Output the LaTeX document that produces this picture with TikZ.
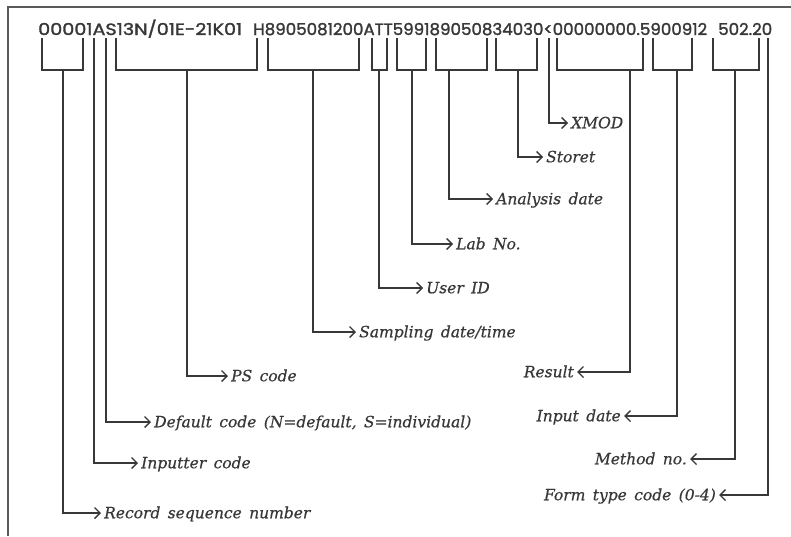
\documentclass[tikz,border=0pt]{standalone}
\usepackage{fontspec}
\usepackage{graphicx}
\usetikzlibrary{arrows.meta}
\newfontfamily\hdrfont{Poppins}[FakeBold=1.6]
\newfontfamily\labfont{DejaVu Serif}[WordSpace=1.5,FakeBold=0.5]
\definecolor{ink}{HTML}{383838}
\definecolor{frame}{HTML}{5A5A5A}
\tikzset{
  brk/.style={draw=ink, line width=1.4pt},
  arr/.style={draw=ink, line width=1.4pt, -{Straight Barb[length=5.5pt,width=11pt,line width=1.4pt]}},
  labR/.style={anchor=west, inner sep=3pt, text=ink, font=\labfont\itshape\fontsize{15.5}{16}\selectfont, text height=10.5pt, text depth=0pt},
  labL/.style={anchor=east, inner sep=3pt, text=ink, font=\labfont\itshape\fontsize{15.5}{16}\selectfont, text height=10.5pt, text depth=0pt},
  hdr/.style={anchor=base west, inner sep=0pt, text=ink}
}
\newcommand{\hdrtext}[2]{\resizebox{#1pt}{12pt}{\hdrfont\fontsize{17}{17}\selectfont\smash{#2}\vphantom{0}}}
\begin{document}
\begin{tikzpicture}[x=1pt,y=-1pt]
\useasboundingbox (0,0) rectangle (791,536);
% frame
\draw[draw=frame, line width=1.5pt] (8,536) -- (8,7) -- (791,7);
% header
\node[hdr] (h1) at (38,35) {\hdrtext{204}{00001AS13N/01E-21K01}};
\node[hdr] (h2) at (253,35) {\hdrtext{454}{H8905081200ATT599189050834030<00000000.5900912}};
\node[hdr] (h3) at (718,35) {\hdrtext{54}{502.20}};
% brackets
\foreach \a/\b in {42/83,116/257,268/359,372/387,397/426,436/487,496/537,557/643,653/692,713/759}
  \draw[brk] (\a,38) -- (\a,70) -- (\b,70) -- (\b,38);
% stem origins
\coordinate (b1) at (63,70);
\coordinate (b2) at (94,38);
\coordinate (b3) at (106,38);
\coordinate (b4) at (187,70);
\coordinate (b5) at (313,70);
\coordinate (b6) at (379,70);
\coordinate (b7) at (412,70);
\coordinate (b8) at (449,70);
\coordinate (b9) at (518,70);
\coordinate (b10) at (549,38);
\coordinate (b11) at (630,70);
\coordinate (b12) at (677,70);
\coordinate (b13) at (735,70);
\coordinate (b14) at (768,38);
% labels
\node[labR] (l1) at (101,513) {Record sequence number};
\node[labR] (l2) at (138,463) {Inputter code};
\node[labR] (l3) at (151,422) {Default code (N=default, S=individual)};
\node[labR] (l4) at (228,376) {PS code};
\node[labR] (l5) at (356,332) {Sampling date/time};
\node[labR] (l6) at (423,288) {User ID};
\node[labR] (l7) at (453,244) {Lab No.};
\node[labR] (l8) at (493,199) {Analysis date};
\node[labR] (l9) at (543,157) {Storet};
\node[labR] (l10) at (568,123) {XMOD};
\node[labL] (l11) at (577,372) {Result};
\node[labL] (l12) at (624,416) {Input date};
\node[labL] (l13) at (690,459) {Method no.};
\node[labL] (l14) at (719,495) {Form type code (0-4)};
% connectors
\foreach \i in {1,...,10}
  \draw[arr] (b\i) |- (l\i.west);
\foreach \i in {11,...,14}
  \draw[arr] (b\i) |- (l\i.east);
\end{tikzpicture}
\end{document}
